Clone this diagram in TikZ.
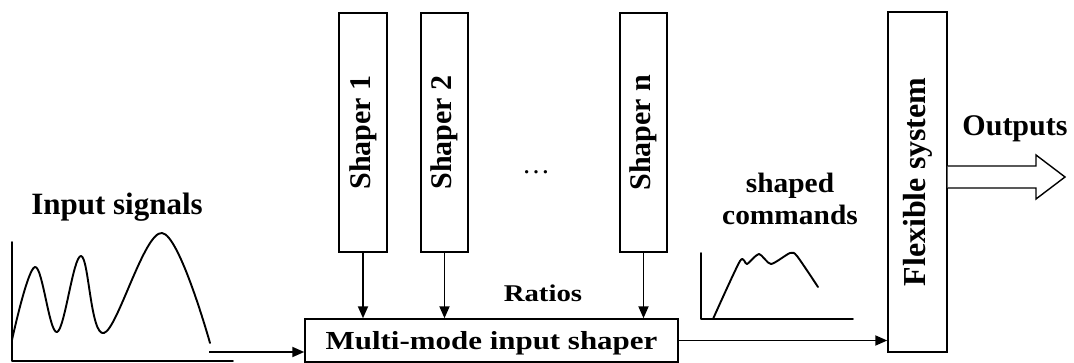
\documentclass[tikz,border=0pt]{standalone}
\usepackage{fontspec}
\usepackage{graphicx}
\setmainfont{Liberation Serif}
\usetikzlibrary{arrows.meta,calc}
\newcommand{\fs}[1]{\fontsize{#1}{#1}\selectfont}
\begin{document}
\begin{tikzpicture}[x=1pt,y=-1pt,
  box/.style={draw,line width=1.4pt,inner sep=0pt,fill=white},
  vbox/.style={box,rotate=90},
  lbl/.style={inner sep=0pt,anchor=base},
  arr/.style={line width=1.9pt,-{Triangle[length=12pt,width=10pt]}},
  crv/.style={line width=1.9pt,line join=round,line cap=round},
]
\useasboundingbox (0,0) rectangle (1074,363);

% shaper blocks
\node[vbox,minimum width=239pt,minimum height=48pt,font=\bfseries\fs{30}] (s1) at (363,132.5) {Shaper 1};
\node[vbox,minimum width=239pt,minimum height=47pt,font=\bfseries\fs{30}] (s2) at (444.5,132.5) {Shaper 2};
\node[vbox,minimum width=239pt,minimum height=47pt,font=\bfseries\fs{30}] (sn) at (643.5,132.5) {Shaper n};
\node[lbl,font=\fs{28}] (dots) at (536,174) {…};

% multi-mode shaper and plant
\node[box,minimum width=373pt,minimum height=43pt,text depth=0pt,font=\bfseries\fs{26}] (mm) at (491.5,340.5) {\scalebox{1.19}[1]{Multi-mode input shaper}};
\node[vbox,minimum width=340pt,minimum height=59pt,font=\bfseries\fs{32}] (flex) at (917.5,182) {Flexible system};

% shaper outputs into the multi-mode shaper
\draw[arr] (s1.west) -- (s1.west |- mm.north);
\draw[arr] (s2.west) -- (s2.west |- mm.north);
\draw[arr] (sn.west) -- (sn.west |- mm.north);
\node[lbl,font=\bfseries\fs{24}] (ratios) at (543,302) {\scalebox{1.2}[1]{Ratios}};

% input signals sketch
\node[lbl,font=\bfseries\fs{31}] (insig) at (117,215) {Input signals};
\draw[crv] (12,242) -- (12,361) -- (233,361);
\draw[crv] plot[smooth,tension=0.6] coordinates {(12,340) (35,267) (57,332) (81,256) (104,333) (162,233) (210,343)};
\coordinate (inend) at (209,352);
\draw[arr] (inend) -- (inend -| mm.west);

% shaped commands sketch
\node[lbl,font=\bfseries\fs{28}] (sh1) at (790,193) {\scalebox{1.05}[1]{shaped}};
\node[lbl,font=\bfseries\fs{28}] (sh2) at (790,225) {\scalebox{1.05}[1]{commands}};
\draw[crv] (701,253) -- (701,319) -- (853,319);
\draw[crv] plot[smooth,tension=0.4] coordinates {(713,319) (740,261) (747,264) (759,254) (771,264) (790,253) (797,256) (818,287)};
\draw[arr] (mm.east) -- (mm.east -| flex.north);

% outputs
\draw[line width=1.4pt,fill=white] (flex.south |- 0,166) -- (1036,166) -- (1036,155) -- (1065,177) -- (1036,199) -- (1036,188) -- (flex.south |- 0,188);
\node[lbl,font=\bfseries\fs{30}] (outs) at (1015,136) {Outputs};
\end{tikzpicture}
\end{document}
